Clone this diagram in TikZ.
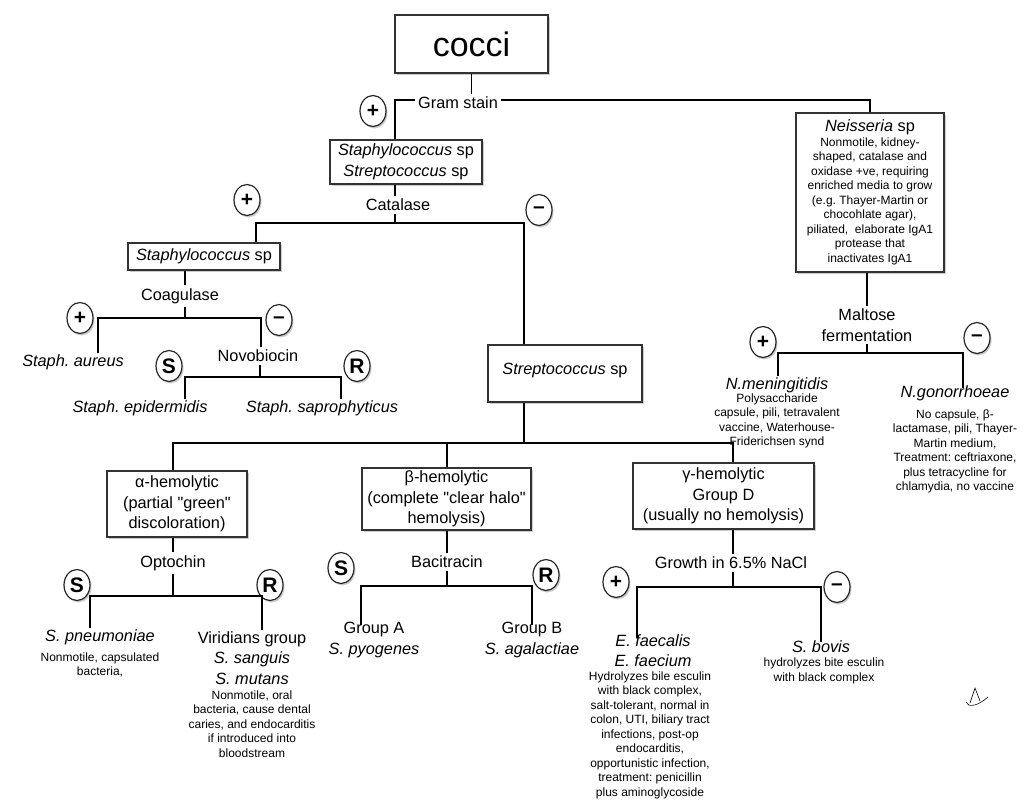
\documentclass[tikz,border=0pt]{standalone}
\usepackage{fontspec}
\setmainfont{Liberation Sans}[Ligatures=TeXOff]
\usetikzlibrary{shapes.geometric,shadows}

\newcommand{\fsmain}{\fontsize{16.3}{20.5}\selectfont}
\newcommand{\fssmall}{\fontsize{12}{14.5}\selectfont}
\newcommand{\fsbig}{\fontsize{34}{40}\selectfont}
\newcommand{\fssign}{\fontsize{21}{21}\selectfont\bfseries}
\frenchspacing

\tikzset{
  softshadow/.style={drop shadow={shadow xshift=1.5pt,shadow yshift=-2pt,opacity=0.4}},
  box/.style={draw=black!80, line width=1.1pt, fill=white, softshadow, align=center, font=\fsmain, inner sep=2pt},
  sign/.style={ellipse, draw=black!85, line width=1.2pt, fill=white, softshadow, minimum width=26pt, minimum height=31pt, inner sep=0pt, font=\fssign},
  test/.style={font=\fsmain, align=center, inner sep=3pt},
  taxon/.style={font=\fsmain\itshape, align=center, inner sep=1pt},
  note/.style={font=\fssmall, align=center, inner sep=1pt},
  link/.style={line width=1.8pt},
}

\begin{document}
\begin{tikzpicture}[x=1pt,y=-1pt]
  \fill[white] (0,0) rectangle (1024,809);
  \useasboundingbox (0,0) rectangle (1024,809);

  % top level
  \node[box, font=\fsbig, minimum width=153pt, minimum height=58pt] (cocci) at (471.5,44) {cocci};
  \node[test] (gram) at (458,103) {Gram stain};
  \node[sign] (gramPos) at (373,111) {+};
  \node[box, minimum width=152pt, minimum height=44pt] (staphstrep) at (406,162) {\textit{Staphylococcus} sp\\\textit{Streptococcus} sp};
  \node[box, font=\fssmall, minimum width=148pt, minimum height=159pt] (neis) at (870,192.5)
    {{\fsmain\textit{Neisseria} sp}\\Nonmotile, kidney-\\shaped, catalase and\\oxidase +ve, requiring\\enriched media to grow\\(e.g. Thayer-Martin or\\chocohlate agar),\\piliated,\ \ elaborate IgA1\\protease that\\inactivates IgA1};

  \coordinate (gL) at (395,100);
  \draw[link] (cocci.south) -- (cocci.south |- gram.north);
  \draw[link] (gram.west |- gL) -- (gL) -- (gL |- staphstrep.north);
  \draw[link] (gram.east |- gL) -| (neis.north);

  % catalase
  \node[test] (cat) at (398,205) {Catalase};
  \node[sign] (catPos) at (247,200) {+};
  \node[sign] (catNeg) at (539,210) {–};
  \node[box, minimum width=152pt, minimum height=27pt] (staph) at (204,256.5) {\textit{Staphylococcus} sp};
  \node[box, minimum width=154pt, minimum height=57pt, text depth=9pt] (strep) at (565,373.5) {\textit{Streptococcus} sp};

  \coordinate (catM) at (395,223);
  \coordinate (catL) at (256,223);
  \coordinate (catR) at (524,223);
  \draw[link] (staphstrep.south -| catM) -- (cat.north -| catM);
  \draw[link] (cat.south -| catM) -- (catM);
  \draw[link] (staph.north -| catL) -- (catL) -- (catR) -- (strep.north -| catR);

  % coagulase
  \node[test] (coag) at (180,296) {Coagulase};
  \node[sign] (coaPos) at (80,318) {+};
  \node[sign] (coaNeg) at (279,320) {–};
  \node[taxon] (aureus) at (73,362) {Staph. aureus};
  \node[test] (novo) at (258,356) {Novobiocin};

  \coordinate (coaM) at (185,318);
  \coordinate (coaL) at (98,318);
  \coordinate (coaR) at (261,318);
  \draw[link] (staph.south -| coaM) -- (coag.north -| coaM);
  \draw[link] (coag.south -| coaM) -- (coaM);
  \draw[link] (aureus.north -| coaL) -- (coaL) -- (coaR) -- (novo.north -| coaR);

  % novobiocin
  \node[sign] (novSens) at (169,366) {S};
  \node[sign] (novRes) at (357,366) {R};
  \node[taxon] (epi) at (140,408) {Staph. epidermidis};
  \node[taxon] (sapro) at (322,408) {Staph. saprophyticus};

  \coordinate (novM) at (260,377);
  \coordinate (novL) at (185,377);
  \coordinate (novR) at (341,377);
  \draw[link] (novo.south -| novM) -- (novM);
  \draw[link] (epi.north -| novL) -- (novL) -- (novR) -- (sapro.north -| novR);

  % hemolysis
  \node[box, minimum width=140pt, minimum height=66pt] (alpha) at (177,504) {α-hemolytic\\(partial "green"\\discoloration)};
  \node[box, minimum width=169pt, minimum height=62pt, inner sep=1pt] (beta) at (446.5,499) {β-hemolytic\\(complete "clear halo"\\hemolysis)};
  \node[box, minimum width=181pt, minimum height=66pt] (gamma) at (723.5,496) {γ-hemolytic\\Group D\\(usually no hemolysis)};

  \coordinate (strM) at (524,443);
  \coordinate (strL) at (173,443);
  \coordinate (strB) at (447,443);
  \coordinate (strR) at (733,443);
  \draw[link] (strep.south -| strM) -- (strM);
  \draw[link] (alpha.north -| strL) -- (strL) -- (strR) -- (gamma.north -| strR);
  \draw[link] (strB) -- (beta.north -| strB);

  % optochin
  \node[test] (opto) at (173,563) {Optochin};
  \node[sign] (optSens) at (77,585) {S};
  \node[sign] (optRes) at (270,585) {R};
  \node[taxon] (pneu) at (100,637) {S. pneumoniae};
  \node[note] (pneuNote) at (100,665) {Nonmotile, capsulated\\bacteria,};
  \node[test, inner sep=1pt] (virid) at (252,658) {Viridians group\\\textit{S. sanguis}\\\textit{S. mutans}};
  \node[note] (viridNote) at (252,724) {Nonmotile, oral\\bacteria, cause dental\\caries, and endocarditis\\if introduced into\\bloodstream};

  \coordinate (optM) at (173,596);
  \coordinate (optL) at (90,596);
  \coordinate (optR) at (262,596);
  \draw[link] (alpha.south -| optM) -- (opto.north -| optM);
  \draw[link] (opto.south -| optM) -- (optM);
  \draw[link] (pneu.north -| optL) -- (optL) -- (optR) -- (virid.north -| optR);

  % bacitracin
  \node[test] (baci) at (447,562) {Bacitracin};
  \node[sign] (bacSens) at (341,568) {S};
  \node[sign] (bacRes) at (546,575) {R};
  \node[test, inner sep=1pt] (grpA) at (374,640) {Group A\\\textit{S. pyogenes}};
  \node[test, inner sep=1pt] (grpB) at (532,640) {Group B\\\textit{S. agalactiae}};

  \coordinate (bacM) at (447,586);
  \coordinate (bacL) at (361,586);
  \coordinate (bacR) at (532,586);
  \draw[link] (beta.south -| bacM) -- (baci.north -| bacM);
  \draw[link] (baci.south -| bacM) -- (bacM);
  \draw[link] ([yshift=-4pt]grpA.north -| bacL) -- (bacL) -- (bacR) -- ([yshift=-4pt]grpB.north -| bacR);

  % salt tolerance
  \node[test] (salt) at (731,563) {Growth in 6.5\% NaCl};
  \node[sign] (salPos) at (616,582) {+};
  \node[sign] (salNeg) at (837,587) {–};
  \node[taxon] (faec) at (653,650.5) {E. faecalis\\E. faecium};
  \node[note] (faecNote) at (650,735) {Hydrolyzes bile esculin\\with black complex,\\salt-tolerant, normal in\\colon, UTI, biliary tract\\infections, post-op\\endocarditis,\\opportunistic infection,\\treatment: penicillin\\plus aminoglycoside};
  \node[taxon] (bovis) at (821,647) {S. bovis};
  \node[note] (bovisNote) at (824,671) {hydrolyzes bite esculin\\with black complex};

  \coordinate (salM) at (733,587);
  \coordinate (salL) at (637,587);
  \coordinate (salR) at (821,587);
  \draw[link] (gamma.south -| salM) -- (salt.north -| salM);
  \draw[link] (salt.south -| salM) -- (salM);
  \draw[link] ([yshift=-5pt]faec.north -| salL) -- (salL) -- (salR) -- ([yshift=-2pt]bovis.north -| salR);

  % maltose
  \node[test] (malt) at (867,325) {Maltose\\fermentation};
  \node[sign] (malPos) at (763,342) {+};
  \node[sign] (malNeg) at (977,338) {–};
  \node[taxon] (menin) at (777,385) {N.meningitidis};
  \node[note] (meninNote) at (777,421) {Polysaccharide\\capsule, pili, tetravalent\\vaccine, Waterhouse-\\Friderichsen synd};
  \node[taxon] (gonor) at (955,393) {N.gonorrhoeae};
  \node[note] (gonorNote) at (955,451.5) {No capsule, β-\\lactamase, pili, Thayer-\\Martin medium,\\Treatment: ceftriaxone,\\plus tetracycline for\\chlamydia, no vaccine};

  \coordinate (malM) at (867,353);
  \coordinate (malL) at (778,353);
  \coordinate (malR) at (963,353);
  \draw[link] (neis.south -| malM) -- (malt.north -| malM);
  \draw[link] (malt.south -| malM) -- (malM);
  \draw[link] (menin.north -| malL) -- (malL) -- (malR) -- ([yshift=-4pt]gonor.north -| malR);

  % scribble
  \draw[line width=0.6pt] (970,703) -- (975,688) -- (980,701) (966,702) .. controls (968,708) and (978,706) .. (988,697);
\end{tikzpicture}
\end{document}
